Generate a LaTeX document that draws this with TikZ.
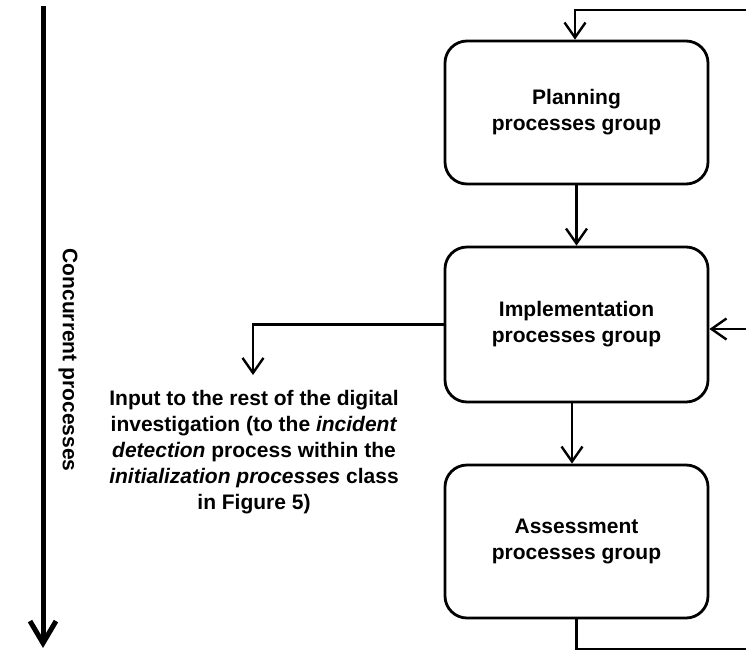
\documentclass[tikz,border=0pt]{standalone}
\usepackage{fontspec}
\setmainfont{Liberation Sans}
\usetikzlibrary{arrows.meta}
\begin{document}
\begin{tikzpicture}[x=1pt,y=-1pt,
  every node/.style={font=\bfseries\fontsize{21}{26}\selectfont},
  group/.style={draw, line width=2.8pt, rounded corners=22pt, minimum width=263pt,
    align=center, inner sep=0pt},
  link/.style={line width=2.6pt},
  arr/.style={link, -{Straight Barb[length=15pt,width=21pt,line width=2.4pt]}},
  bigarr/.style={line width=5pt, -{Straight Barb[length=22pt,width=26pt,line width=5pt]}}
]
  % canvas
  \fill[white] (0,0) rectangle (746,656);
  \useasboundingbox (0,0) rectangle (746,656);

  % the three process groups
  \node[group, minimum height=143pt] (plan)   at (576.5,112.5) {Planning\\processes group};
  \node[group, minimum height=155pt] (impl)   at (576.5,324.5) {Implementation\\processes group};
  \node[group, minimum height=153pt] (assess) at (576.5,541.5) {Assessment\\processes group};

  % free ends of the feedback loop and of the output arrow
  \coordinate (loopTop) at (746,10);
  \coordinate (loopMid) at (746,329);
  \coordinate (loopBot) at (746,649);
  \coordinate (outTip)  at (253,375);

  % flow between groups
  \draw[arr] (plan.south) -- (impl.north);
  \draw[arr] ([xshift=-4.5pt]impl.south) -- ([xshift=-4.5pt]assess.north);
  \draw[arr] (loopTop) -| ([xshift=-1.5pt]plan.north);
  \draw[arr] (loopMid) -- (impl.east |- loopMid);
  \draw[link] (assess.south) |- (loopBot);

  % output to the rest of the investigation
  \draw[arr] (impl.west) -| (outTip);
  \node[align=center, anchor=north, inner sep=0pt] (input) at (254,390)
    {Input to the rest of the digital\\
     investigation (to the \textit{incident}\\
     \textit{detection} process within the\\
     \textit{initialization processes} class\\
     in Figure 5)};

  % concurrent processes time axis
  \coordinate (axisTop) at (43,6);
  \coordinate (axisEnd) at (43,648);
  \draw[bigarr] (axisTop) -- (axisEnd);
  \node[rotate=-90] (axisLabel) at (68,360) {Concurrent processes};
\end{tikzpicture}
\end{document}
